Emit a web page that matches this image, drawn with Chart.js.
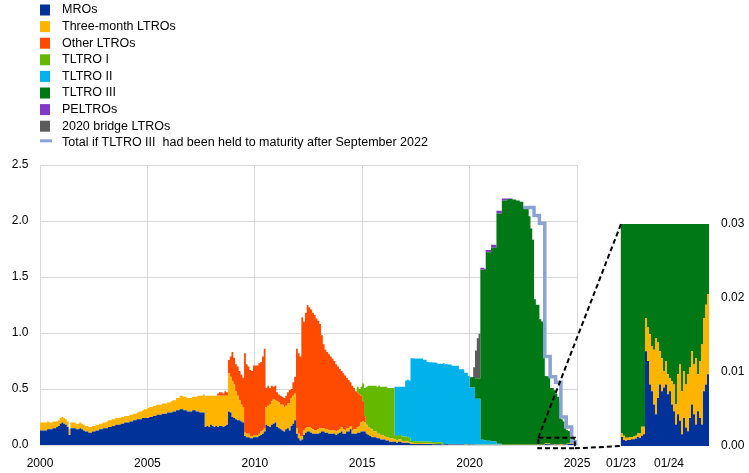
<!DOCTYPE html>
<html>
<head>
<meta charset="utf-8">
<script src="https://cdn.jsdelivr.net/npm/chart.js@4.4.1/dist/chart.umd.min.js"></script>
<style>
  html, body { margin: 0; padding: 0; background: #fff; }
  #wrap { position: relative; width: 749px; height: 473px; }
  #wrap canvas { position: absolute; left: 0; top: 0; }
</style>
</head>
<body>
<div id="wrap">
  <canvas id="mainChart" width="749" height="473"></canvas>
  <canvas id="insetChart" width="749" height="473"></canvas>
</div>
<script>
// monthly values, EUR trillions, Jan 2000 - Dec 2024
const firstYear = 2000;
const lastYear = 2024;

const mro = [
  0.13, 0.13, 0.13, 0.13, 0.14, 0.14, 0.14, 0.15, 0.15, 0.16, 0.17, 0.19,
  0.20, 0.19, 0.18, 0.16, 0.09, 0.15, 0.15, 0.15, 0.14, 0.14, 0.15, 0.14,
  0.13, 0.12, 0.12, 0.11, 0.11, 0.12, 0.12, 0.13, 0.13, 0.14, 0.14, 0.15,
  0.15, 0.15, 0.16, 0.16, 0.17, 0.17, 0.18, 0.18, 0.18, 0.19, 0.19, 0.20,
  0.20, 0.20, 0.21, 0.21, 0.22, 0.22, 0.23, 0.23, 0.23, 0.24, 0.24, 0.24,
  0.24, 0.25, 0.25, 0.26, 0.26, 0.27, 0.27, 0.27, 0.28, 0.28, 0.28, 0.29,
  0.29, 0.29, 0.30, 0.30, 0.31, 0.31, 0.32, 0.32, 0.31, 0.31, 0.30, 0.30,
  0.30, 0.31, 0.31, 0.30, 0.30, 0.29, 0.29, 0.29, 0.16, 0.17, 0.16, 0.18,
  0.17, 0.16, 0.17, 0.16, 0.17, 0.17, 0.16, 0.17, 0.18, 0.30, 0.29, 0.25,
  0.24, 0.23, 0.22, 0.22, 0.21, 0.20, 0.08, 0.07, 0.07, 0.06, 0.06, 0.07,
  0.07, 0.07, 0.08, 0.09, 0.10, 0.12, 0.18, 0.17, 0.16, 0.18, 0.19, 0.20,
  0.16, 0.15, 0.14, 0.13, 0.12, 0.14, 0.15, 0.13, 0.17, 0.19, 0.22, 0.10,
  0.06, 0.04, 0.05, 0.09, 0.11, 0.12, 0.12, 0.11, 0.10, 0.10, 0.10, 0.10,
  0.11, 0.12, 0.12, 0.11, 0.11, 0.10, 0.10, 0.10, 0.10, 0.09, 0.10, 0.11,
  0.12, 0.10, 0.10, 0.12, 0.12, 0.14, 0.10, 0.10, 0.10, 0.11, 0.11, 0.12,
  0.12, 0.12, 0.10, 0.09, 0.08, 0.07, 0.07, 0.07, 0.06, 0.06, 0.05, 0.05,
  0.05, 0.04, 0.04, 0.03, 0.03, 0.03, 0.03, 0.02, 0.03, 0.03, 0.02, 0.02,
  0.02, 0.02, 0.015, 0.01, 0.01, 0.01, 0.01, 0.01, 0.01, 0.01, 0.01, 0.01,
  0.01, 0.008, 0.008, 0.007, 0.007, 0.006, 0.006, 0.006, 0.005, 0.005, 0.006, 0.006,
  0.005, 0.005, 0.005, 0.004, 0.004, 0.004, 0.004, 0.004, 0.004, 0.003, 0.003, 0.004,
  0.002, 0.002, 0.002, 0.001, 0.001, 0.001, 0.001, 0.001, 0.001, 0.001, 0.001, 0.001,
  0.001, 0.001, 0.001, 0.001, 0.001, 0.001, 0.001, 0.001, 0.001, 0.001, 0.001, 0.001,
  0.001, 0.001, 0.001, 0.001, 0.001, 0.001, 0.001, 0.001, 0.001, 0.001, 0.001, 0.001,
  0.001, 0.001, 0.001, 0.001, 0.001, 0.001, 0.010, 0.006, 0.007, 0.005, 0.004, 0.003,
  0.004, 0.004, 0.003, 0.003, 0.004, 0.004, 0.005, 0.008, 0.009, 0.010, 0.010, 0.010
];

const ltro3m = [
  0.07, 0.07, 0.07, 0.07, 0.07, 0.06, 0.06, 0.06, 0.06, 0.05, 0.05, 0.05,
  0.05, 0.05, 0.05, 0.05, 0.05, 0.05, 0.05, 0.05, 0.05, 0.05, 0.05, 0.05,
  0.05, 0.05, 0.05, 0.05, 0.05, 0.05, 0.05, 0.05, 0.05, 0.05, 0.05, 0.05,
  0.05, 0.06, 0.06, 0.06, 0.06, 0.06, 0.06, 0.06, 0.06, 0.06, 0.06, 0.06,
  0.06, 0.06, 0.06, 0.06, 0.06, 0.06, 0.06, 0.07, 0.07, 0.07, 0.08, 0.08,
  0.09, 0.09, 0.09, 0.09, 0.09, 0.09, 0.09, 0.09, 0.09, 0.09, 0.09, 0.09,
  0.09, 0.10, 0.10, 0.10, 0.11, 0.11, 0.12, 0.12, 0.12, 0.12, 0.12, 0.12,
  0.12, 0.12, 0.12, 0.13, 0.14, 0.15, 0.15, 0.16, 0.28, 0.27, 0.28, 0.26,
  0.27, 0.28, 0.27, 0.28, 0.27, 0.27, 0.28, 0.27, 0.26, 0.34, 0.32, 0.32,
  0.30, 0.25, 0.22, 0.18, 0.15, 0.14, 0.03, 0.03, 0.03, 0.02, 0.02, 0.02,
  0.02, 0.02, 0.02, 0.03, 0.03, 0.03, 0.16, 0.18, 0.20, 0.21, 0.22, 0.20,
  0.23, 0.23, 0.22, 0.23, 0.22, 0.21, 0.22, 0.24, 0.25, 0.25, 0.24, 0.05,
  0.04, 0.04, 0.03, 0.04, 0.04, 0.04, 0.04, 0.04, 0.04, 0.03, 0.03, 0.04,
  0.04, 0.03, 0.03, 0.03, 0.03, 0.03, 0.03, 0.03, 0.03, 0.03, 0.03, 0.03,
  0.04, 0.04, 0.03, 0.03, 0.03, 0.03, 0.03, 0.04, 0.04, 0.05, 0.06, 0.08,
  0.09, 0.08, 0.08, 0.07, 0.07, 0.07, 0.05, 0.05, 0.04, 0.04, 0.04, 0.04,
  0.03, 0.03, 0.03, 0.03, 0.03, 0.025, 0.02, 0.02, 0.02, 0.02, 0.015, 0.015,
  0.015, 0.012, 0.01, 0.01, 0.01, 0.008, 0.008, 0.008, 0.007, 0.007, 0.006, 0.006,
  0.006, 0.005, 0.005, 0.005, 0.005, 0.004, 0.004, 0.004, 0.004, 0.004, 0.004, 0.004,
  0.003, 0.003, 0.003, 0.003, 0.003, 0.003, 0.003, 0.003, 0.003, 0.003, 0.003, 0.003,
  0.002, 0.002, 0.002, 0.002, 0.002, 0.002, 0.001, 0.001, 0.001, 0.001, 0.001, 0.001,
  0.001, 0.001, 0.001, 0.001, 0.001, 0.001, 0.001, 0.001, 0.001, 0.001, 0.001, 0.001,
  0.001, 0.001, 0.001, 0.001, 0.001, 0.001, 0.001, 0.001, 0.001, 0.001, 0.001, 0.001,
  0.001, 0.001, 0.001, 0.001, 0.001, 0.001, 0.006, 0.007, 0.007, 0.005, 0.004, 0.005,
  0.006, 0.006, 0.006, 0.007, 0.006, 0.006, 0.006, 0.006, 0.008, 0.009, 0.010, 0.010
];

// Jan 2008 - Dec 2015
const otherLtroStart = 2008;
const otherLtro = [
  0, 0, 0, 0.02, 0.03, 0.03, 0.02, 0.04, 0.03, 0.12, 0.18, 0.26,
  0.24, 0.24, 0.26, 0.26, 0.27, 0.26, 0.71, 0.62, 0.60, 0.59, 0.58, 0.62,
  0.62, 0.62, 0.63, 0.62, 0.66, 0.71, 0.17, 0.18, 0.15, 0.14, 0.11, 0.13,
  0.08, 0.07, 0.08, 0.07, 0.08, 0.09, 0.10, 0.12, 0.08, 0.12, 0.15, 0.71,
  0.72, 0.71, 1.06, 0.97, 1.03, 1.09, 1.07, 1.06, 1.04, 1.03, 1.00, 0.97,
  0.93, 0.83, 0.75, 0.71, 0.69, 0.68, 0.66, 0.64, 0.62, 0.60, 0.57, 0.54,
  0.50, 0.50, 0.49, 0.45, 0.43, 0.39, 0.40, 0.37, 0.34, 0.31, 0.28, 0.24,
  0.18, 0.06, 0, 0, 0, 0, 0, 0, 0, 0, 0, 0
];

// Jan 2014 - Dec 2018
const tltro1Start = 2014;
const tltro1 = [
  0, 0, 0, 0, 0, 0, 0, 0, 0, 0.05, 0.05, 0.08,
  0.16, 0.25, 0.34, 0.37, 0.38, 0.39, 0.41, 0.41, 0.42, 0.43, 0.43, 0.43,
  0.44, 0.45, 0.44, 0.45, 0.45, 0.455, 0.04, 0.04, 0.04, 0.04, 0.04, 0.04,
  0.04, 0.04, 0.04, 0.015, 0.015, 0.015, 0.015, 0.015, 0.015, 0.015, 0.015, 0.015,
  0.015, 0.015, 0.015, 0.015, 0.015, 0.015, 0.015, 0.015, 0.015, 0, 0, 0
];

// Jan 2016 - Dec 2021
const tltro2Start = 2016;
const tltro2 = [
  0, 0, 0, 0, 0, 0, 0.43, 0.44, 0.43, 0.43, 0.445, 0.445,
  0.50, 0.51, 0.51, 0.74, 0.74, 0.74, 0.74, 0.74, 0.74, 0.74, 0.73, 0.73,
  0.71, 0.71, 0.71, 0.71, 0.71, 0.71, 0.70, 0.70, 0.70, 0.72, 0.71, 0.71,
  0.71, 0.71, 0.70, 0.70, 0.70, 0.70, 0.67, 0.67, 0.67, 0.64, 0.64, 0.61,
  0.51, 0.51, 0.51, 0.41, 0.41, 0.41, 0.045, 0.045, 0.04, 0.035, 0.035, 0.035,
  0.03, 0.03, 0.03, 0.01, 0.01, 0.01, 0, 0, 0, 0, 0, 0
];

// Jan 2020 - Dec 2024
const tltro3Start = 2020;
const tltro3 = [
  0.09, 0.09, 0.10, 0.18, 0.18, 0.18, 1.52, 1.52, 1.52, 1.685, 1.685, 1.685,
  1.73, 1.73, 1.73, 2.055, 2.055, 2.055, 2.18, 2.18, 2.18, 2.195, 2.195, 2.195,
  2.19, 2.19, 2.18, 2.18, 2.17, 2.17, 2.12, 2.12, 2.12, 2.04, 1.93, 1.83,
  1.30, 1.25, 1.25, 1.12, 1.10, 1.08, 0.60, 0.60, 0.60, 0.50, 0.50, 0.48,
  0.45, 0.42, 0.38, 0.22, 0.20, 0.14, 0.12, 0.11, 0.10, 0.06, 0.05, 0.04
];

// Jan 2020 - Dec 2021
const peltroStart = 2020;
const peltro = [
  0, 0, 0, 0, 0, 0, 0.015, 0.015, 0.015, 0.02, 0.02, 0.02,
  0.025, 0.025, 0.025, 0.025, 0.025, 0.025, 0.02, 0.02, 0.02, 0.005, 0.005, 0.005
];

// Jan 2020 - Dec 2020
const bridgeStart = 2020;
const bridge = [0, 0, 0.08, 0.25, 0.36, 0.40, 0, 0, 0, 0, 0, 0];

// total if TLTRO III had been held to maturity, Jul 2022 - Dec 2024
const heldStart = 2022 + 6 / 12;
const heldToMaturity = [
  2.12, 2.12, 2.12, 2.12, 2.12, 2.12,
  2.05, 2.05, 2.05, 1.98, 1.98, 1.98, 0.79, 0.79, 0.79, 0.61, 0.61, 0.61,
  0.56, 0.56, 0.56, 0.25, 0.25, 0.25, 0.16, 0.16, 0.16, 0.03, 0.03, 0
];

// inset: half-monthly, Jan 2023 - Nov 2024
const insetFrom = 2023;
const insetTo = 2024 + 10 / 12;
const insetMro = [
  0.0012, 0.0008, 0.0007, 0.0008, 0.0008, 0.0009, 0.0009, 0.0010, 0.0012, 0.0011, 0.0014, 0.0016,
  0.0128, 0.0115, 0.0083, 0.0074, 0.0056, 0.0043, 0.0065, 0.0083, 0.0074, 0.0079, 0.0083, 0.0070,
  0.0074, 0.0056, 0.0047, 0.0029, 0.0043, 0.0034, 0.0016, 0.0038, 0.0025, 0.0020, 0.0038, 0.0056,
  0.0043, 0.0029, 0.0047, 0.0038, 0.0029, 0.0074, 0.0083, 0.0097, 0.0097
];
const insetLtro = [
  0.0005, 0.0006, 0.0004, 0.0003, 0.0004, 0.0003, 0.0004, 0.0004, 0.0005, 0.0006, 0.0012, 0.0010,
  0.0045, 0.0045, 0.0068, 0.0061, 0.0074, 0.0103, 0.0075, 0.0045, 0.0045, 0.0022, 0.0032, 0.0027,
  0.0018, 0.0032, 0.0036, 0.0027, 0.0054, 0.0076, 0.0058, 0.0063, 0.0058, 0.0077, 0.0068, 0.0072,
  0.0067, 0.0090, 0.0050, 0.0077, 0.0108, 0.0099, 0.0108, 0.0108, 0.0108
];
const insetTicks = [2023, 2024];
const mainTicks = { min: 2000, max: 2025, step: 5 };

// dashed frame drawn around the zoomed part of the main chart
const zoomBox = { x0: 2023.2, x1: 2024.9, yTop: 0.065, yBottom: -0.03 };

const fontFamily = '"Liberation Sans", Arial, sans-serif';
const gridColor = '#d9d9d9';
const lineColor = '#8ba2d3';

const months = [];
for (let y = firstYear; y <= lastYear; y++) {
  for (let m = 0; m < 12; m++) months.push(y + m / 12);
}

function spread(start, values, empty) {
  const out = months.map(() => empty);
  const offset = Math.round((start - firstYear) * 12);
  values.forEach((v, i) => { out[offset + i] = v; });
  return out;
}

const tltro3Full = spread(tltro3Start, tltro3, 0);

const areaSeries = [
  { label: 'MROs', color: '#003299', values: mro },
  { label: 'Three-month LTROs', color: '#ffb400', values: ltro3m },
  { label: 'Other LTROs', color: '#ff4b00', values: spread(otherLtroStart, otherLtro, 0) },
  { label: 'TLTRO I', color: '#65b800', values: spread(tltro1Start, tltro1, 0) },
  { label: 'TLTRO II', color: '#00b1ea', values: spread(tltro2Start, tltro2, 0) },
  { label: 'TLTRO III', color: '#007816', values: tltro3Full },
  { label: 'PELTROs', color: '#8139c6', values: spread(peltroStart, peltro, 0) },
  { label: '2020 bridge LTROs', color: '#5c5c5c', values: spread(bridgeStart, bridge, 0) }
];
const heldLabel = 'Total if TLTRO III  had been held to maturity after September 2022';

Chart.defaults.font.family = fontFamily;
Chart.defaults.font.size = 12;
Chart.defaults.color = '#000';
Chart.defaults.animation = false;

const mainDatasets = areaSeries.map((s, i) => ({
  label: s.label,
  data: months.map((x, j) => ({ x: x, y: s.values[j] })),
  backgroundColor: s.color,
  borderColor: 'rgba(0,0,0,0)',
  borderWidth: 0,
  fill: i === 0 ? 'origin' : '-1',
  stepped: 'before',
  pointRadius: 0,
  stack: 'ops'
}));
const heldValues = spread(heldStart, heldToMaturity, null);
mainDatasets.push({
  label: heldLabel,
  data: months.map((x, j) => ({ x: x, y: heldValues[j] })),
  borderColor: lineColor,
  backgroundColor: lineColor,
  borderWidth: 3.5,
  fill: false,
  stepped: 'before',
  pointRadius: 0,
  stack: 'held',
  order: -1
});

// legend in one column above the plot
const legendPlugin = {
  id: 'columnLegend',
  afterDraw(chart) {
    const ctx = chart.ctx;
    ctx.save();
    ctx.font = '12.5px ' + fontFamily;
    ctx.textBaseline = 'middle';
    const items = areaSeries.map(s => ({ label: s.label, color: s.color, line: false }));
    items.push({ label: heldLabel, color: lineColor, line: true });
    items.forEach((it, i) => {
      const cy = 9.5 + i * 16.6;
      ctx.fillStyle = it.color;
      if (it.line) ctx.fillRect(40, cy - 3, 12, 3);
      else ctx.fillRect(40, cy - 5, 10, 11);
      ctx.fillStyle = '#000';
      ctx.fillText(it.label, 62, cy + 0.5);
    });
    ctx.restore();
  }
};

const mainChart = new Chart(document.getElementById('mainChart'), {
  type: 'line',
  data: { datasets: mainDatasets },
  options: {
    responsive: false,
    layout: { padding: { top: 165, right: 172 } },
    plugins: { legend: { display: false }, tooltip: { enabled: false } },
    scales: {
      x: {
        type: 'linear',
        min: mainTicks.min,
        max: mainTicks.max,
        ticks: { stepSize: mainTicks.step, padding: 11, callback: v => String(v) },
        grid: { color: gridColor, drawTicks: false },
        border: { color: gridColor },
        afterFit: s => { s.height = 28; }
      },
      y: {
        stacked: true,
        min: 0,
        max: 2.5,
        ticks: { stepSize: 0.5, padding: 11.5, callback: v => v.toFixed(1) },
        grid: { color: gridColor, drawTicks: false },
        border: { color: gridColor },
        afterFit: s => { s.width = 40; }
      }
    }
  },
  plugins: [legendPlugin]
});

// inset
const insetDates = insetMro.map((_, k) => insetFrom + k / 24);
const insetSeries = [
  { color: '#003299', values: insetMro },
  { color: '#ffb400', values: insetLtro },
  { color: '#007816', values: insetDates.map(d => tltro3Full[Math.floor((d - firstYear) * 12 + 1e-6)]) }
];

const connectorPlugin = {
  id: 'zoomConnector',
  afterDraw(chart) {
    const ctx = chart.ctx;
    const a = chart.chartArea;
    const xs = mainChart.scales.x;
    const ys = mainChart.scales.y;
    const bx0 = xs.getPixelForValue(zoomBox.x0);
    const bx1 = xs.getPixelForValue(zoomBox.x1);
    const by0 = ys.getPixelForValue(zoomBox.yTop);
    const by1 = ys.getPixelForValue(zoomBox.yBottom);
    ctx.save();
    ctx.strokeStyle = gridColor;
    ctx.lineWidth = 1;
    ctx.beginPath();
    ctx.moveTo(a.left - 0.5, a.top);
    ctx.lineTo(a.left - 0.5, a.bottom);
    ctx.stroke();
    ctx.strokeStyle = '#000';
    ctx.lineWidth = 2;
    ctx.setLineDash([5, 3]);
    ctx.strokeRect(bx0, by0, bx1 - bx0, by1 - by0);
    ctx.beginPath();
    ctx.moveTo(bx0, by0);
    ctx.lineTo(a.left, a.top);
    ctx.moveTo(bx1, by1);
    ctx.lineTo(a.left, a.bottom);
    ctx.stroke();
    ctx.restore();
  }
};

new Chart(document.getElementById('insetChart'), {
  type: 'line',
  data: {
    datasets: insetSeries.map((s, i) => ({
      data: insetDates.map((x, k) => ({ x: x, y: s.values[k] })),
      backgroundColor: s.color,
      borderColor: 'rgba(0,0,0,0)',
      borderWidth: 0,
      fill: i === 0 ? 'origin' : '-1',
      stepped: 'before',
      pointRadius: 0
    }))
  },
  options: {
    responsive: false,
    layout: { padding: { left: 621, top: 224 } },
    plugins: { legend: { display: false }, tooltip: { enabled: false } },
    scales: {
      x: {
        type: 'linear',
        min: insetFrom,
        max: insetTo,
        afterBuildTicks: axis => { axis.ticks = insetTicks.map(v => ({ value: v })); },
        ticks: { padding: 10, callback: v => '01/' + String(Math.round(v)).slice(2) },
        grid: { display: false, drawTicks: false },
        border: { display: false },
        afterFit: s => { s.height = 27; }
      },
      y: {
        position: 'right',
        stacked: true,
        min: 0,
        max: 0.03,
        ticks: { stepSize: 0.01, padding: 12, callback: v => v.toFixed(2) },
        grid: { display: false, drawTicks: false },
        border: { display: false },
        afterFit: s => { s.width = 40; }
      }
    }
  },
  plugins: [connectorPlugin]
});
</script>
</body>
</html>
